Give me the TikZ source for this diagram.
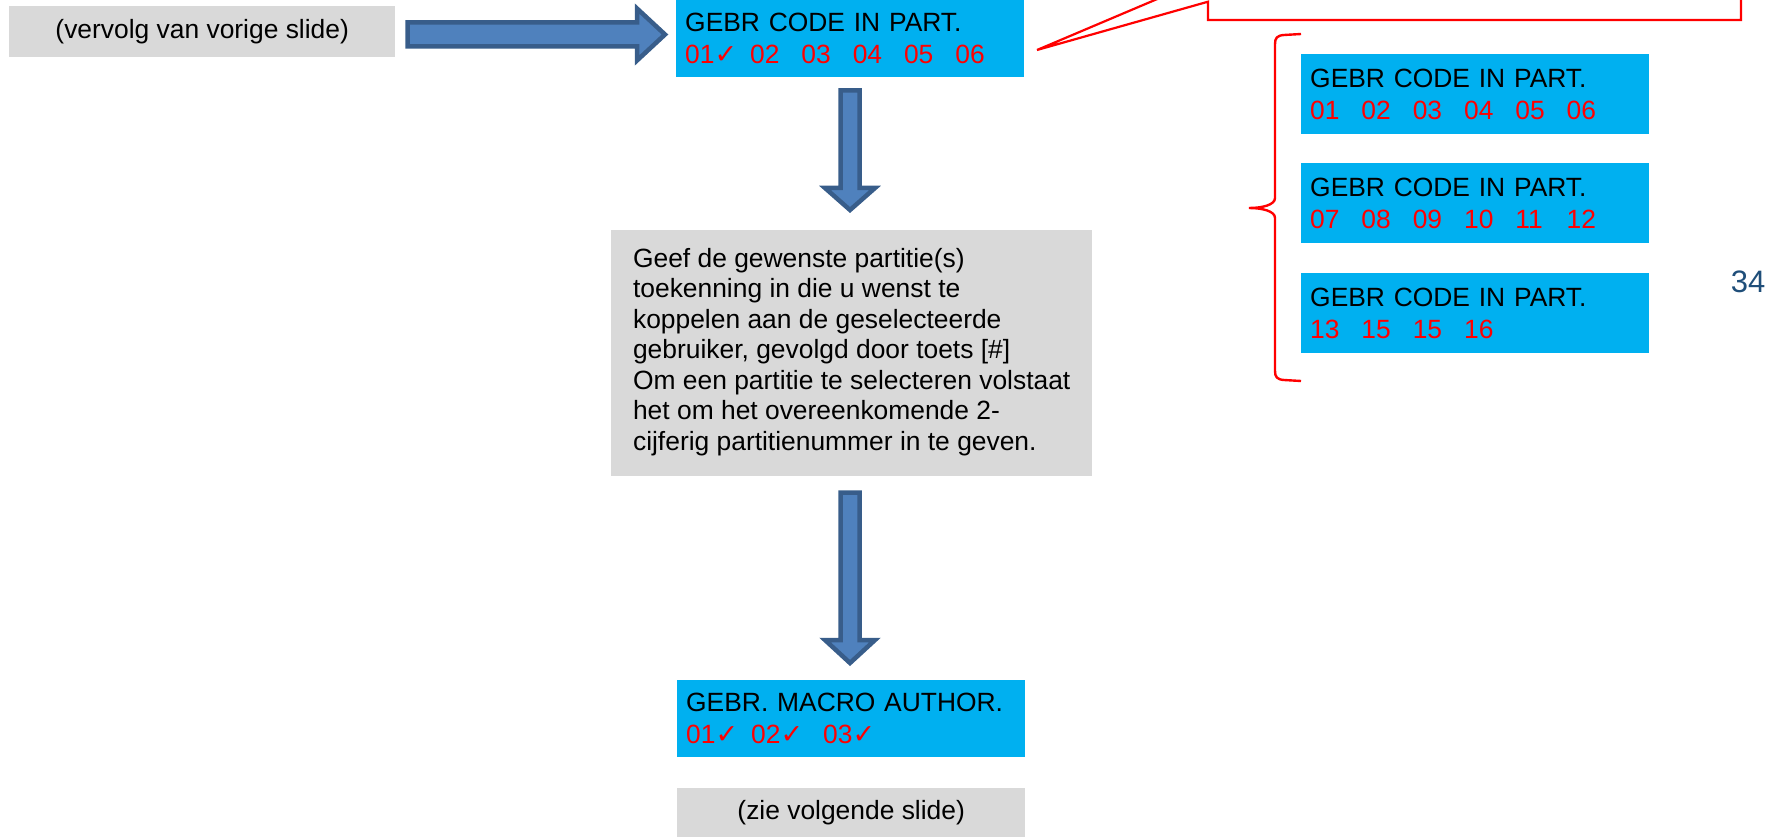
\documentclass[tikz,border=0pt]{standalone}
\usepackage{fontspec}
\setmainfont{Liberation Sans}
\newfontfamily\dejavu{DejaVu Sans}
\definecolor{cyanbox}{HTML}{00B0F0}
\definecolor{greybox}{HTML}{D9D9D9}
\definecolor{arrowfill}{HTML}{4F81BD}
\definecolor{arrowline}{HTML}{385D8A}
\definecolor{pagenum}{HTML}{1F4E79}
\definecolor{pured}{HTML}{FF0000}
\newcommand{\ck}{{\dejavu\fontsize{27}{27}\selectfont ✓}}
\newcommand{\nb}[2]{\makebox[#1][l]{#2}}
\begin{document}
\begin{tikzpicture}[x=1pt,y=-1pt,
  txt/.style={font=\fontsize{26.4}{32}\selectfont},
  bluebox/.style={txt, fill=cyanbox, anchor=north west, minimum height=#1,
    text width=330pt, inner xsep=9pt, inner ysep=0pt, align=left},
  bluebox/.default=80pt,
  greyrect/.style={txt, fill=greybox, anchor=north west, inner sep=0pt},
  blockarrow/.style={fill=arrowfill, draw=arrowline, line width=4.5pt, line join=miter},
  redline/.style={draw=pured, line width=2.2pt}
]
\useasboundingbox (0,0) rectangle (1768,837);

% left grey box
\node[greyrect, minimum width=386pt, minimum height=51pt] (prev) at (9,6) {(vervolg van vorige slide)};

% top blue box
\node[bluebox=77pt] (top) at (676,0) {GEBR CODE IN PART.\\
  \textcolor{pured}{\nb{65pt}{01\ck}\nb{51.3pt}{02}\nb{51.3pt}{03}\nb{51.3pt}{04}\nb{51.3pt}{05}06}};

% explanation box
\node[greyrect, minimum width=481pt, minimum height=246pt, align=left,
  font=\fontsize{26.4}{30.5}\selectfont] (expl) at (611,230) {Geef de gewenste partitie(s)\\
toekenning in die u wenst te\\
koppelen aan de geselecteerde\\
gebruiker, gevolgd door toets [\#]\\
Om een partitie te selecteren volstaat\\
het om het overeenkomende 2-\\
cijferig partitienummer in te geven.\rule[-8pt]{0pt}{8pt}};

% macro author box
\node[bluebox=77pt] (macro) at (677,680) {GEBR. MACRO AUTHOR.\\
  \textcolor{pured}{\nb{65pt}{01\ck}\nb{72pt}{02\ck}03\ck}};

% next slide box
\node[greyrect, minimum width=348pt, minimum height=49pt] (next) at (677,788) {(zie volgende slide)};

% right-hand boxes
\node[bluebox] (pa) at (1301,54) {GEBR CODE IN PART.\\
  \textcolor{pured}{\nb{51.3pt}{01}\nb{51.3pt}{02}\nb{51.3pt}{03}\nb{51.3pt}{04}\nb{51.3pt}{05}06}};
\node[bluebox] (pb) at (1301,163) {GEBR CODE IN PART.\\
  \textcolor{pured}{\nb{51.3pt}{07}\nb{51.3pt}{08}\nb{51.3pt}{09}\nb{51.3pt}{10}\nb{51.3pt}{11}12}};
\node[bluebox] (pc) at (1301,273) {GEBR CODE IN PART.\\
  \textcolor{pured}{\nb{51.3pt}{13}\nb{51.3pt}{15}\nb{51.3pt}{15}16}};

% page number
\node[font=\fontsize{31}{31}\selectfont, text=pagenum, inner sep=0pt] (pnum) at (1748,282) {34};

% block arrows
\draw[blockarrow] (407.5,22.5) -- (637,22.5) -- (637,8.5) -- (665,34.5) -- (637,60.5) -- (637,46.5) -- (407.5,46.5) -- cycle;
\draw[blockarrow] (840.5,90.5) -- (859.5,90.5) -- (859.5,188) -- (875,188) -- (850,210) -- (825,188) -- (840.5,188) -- cycle;
\draw[blockarrow] (840.5,492.5) -- (859.5,492.5) -- (859.5,640) -- (875,640) -- (850,663) -- (825,640) -- (840.5,640) -- cycle;

% callout
\begin{scope}
\clip (0,0) rectangle (1768,837);
\draw[redline, line join=miter] (1741,-10) -- (1741,20) -- (1208,20) -- (1208,1.7) -- (1037,50) -- (1208,-22.5);
\end{scope}

% brace
\draw[redline, line width=2.4pt] (1301,34) -- (1284,35) .. controls (1277,35.5) and (1275,38) .. (1275,44)
  -- (1275,198) .. controls (1275,205) and (1262,208) .. (1249,208)
  .. controls (1262,208) and (1275,211) .. (1275,218)
  -- (1275,371) .. controls (1275,377) and (1277,379.5) .. (1284,380) -- (1301,381);
\end{tikzpicture}
\end{document}
